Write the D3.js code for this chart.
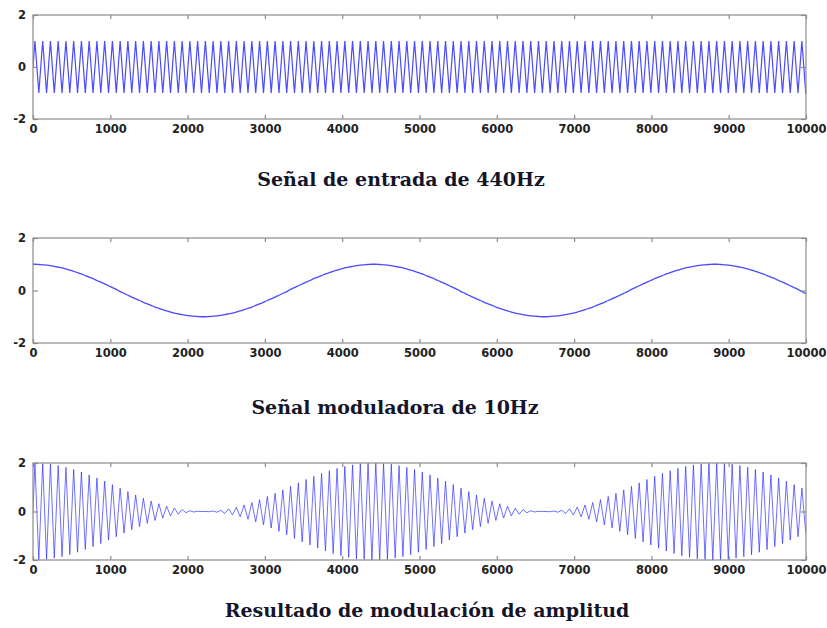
<!DOCTYPE html>
<html>
<head>
<meta charset="utf-8">
<script src="https://cdn.jsdelivr.net/npm/d3@7"></script>
<style>
  body { margin: 0; background: #fff; }
  .tick-label { font-family: "DejaVu Sans", sans-serif; font-weight: bold; font-size: 11.5px; fill: #222; }
  .panel-title { font-family: "DejaVu Serif", serif; font-weight: bold; font-size: 19px; fill: #15152a; }
</style>
</head>
<body>
<svg id="chart" width="827" height="628"></svg>
<script>

// sample axis
const xTicks = [0, 1000, 2000, 3000, 4000, 5000, 6000, 7000, 8000, 9000, 10000]
const yTicks = [-2, 0, 2]
const halfPeriod = 50.11   // 200 half cycles of the 440Hz wave across 10000 samples
const firstPeak = 25.06

// peaks of the 440Hz carrier, one per half cycle
const carrierPeaks = [
  1,-1,1,-1,1,-1,1,-1,1,-1,1,-1,1,-1,1,-1,1,-1,1,-1,
  1,-1,1,-1,1,-1,1,-1,1,-1,1,-1,1,-1,1,-1,1,-1,1,-1,
  1,-1,1,-1,1,-1,1,-1,1,-1,1,-1,1,-1,1,-1,1,-1,1,-1,
  1,-1,1,-1,1,-1,1,-1,1,-1,1,-1,1,-1,1,-1,1,-1,1,-1,
  1,-1,1,-1,1,-1,1,-1,1,-1,1,-1,1,-1,1,-1,1,-1,1,-1,
  1,-1,1,-1,1,-1,1,-1,1,-1,1,-1,1,-1,1,-1,1,-1,1,-1,
  1,-1,1,-1,1,-1,1,-1,1,-1,1,-1,1,-1,1,-1,1,-1,1,-1,
  1,-1,1,-1,1,-1,1,-1,1,-1,1,-1,1,-1,1,-1,1,-1,1,-1,
  1,-1,1,-1,1,-1,1,-1,1,-1,1,-1,1,-1,1,-1,1,-1,1,-1,
  1,-1,1,-1,1,-1,1,-1,1,-1,1,-1,1,-1,1,-1,1,-1,1,-1
]

// 10Hz modulating signal, read at the same sample positions
const modulator = [
  1.00,0.99,0.98,0.97,0.95,0.92,0.89,0.86,0.82,0.78,0.73,0.68,0.63,0.57,0.51,0.45,0.38,0.32,0.25,0.18,0.11,0.04,
  -0.04,-0.11,-0.18,-0.25,-0.32,-0.38,-0.45,-0.51,-0.57,-0.63,-0.68,-0.73,-0.78,-0.82,-0.86,-0.89,-0.92,-0.95,-0.97,-0.98,-0.99,-1.00,
  -1.00,-0.99,-0.98,-0.97,-0.95,-0.92,-0.89,-0.86,-0.82,-0.78,-0.73,-0.68,-0.63,-0.57,-0.51,-0.45,-0.38,-0.32,-0.25,-0.18,-0.11,-0.04,
  0.04,0.11,0.18,0.25,0.32,0.38,0.45,0.51,0.57,0.63,0.68,0.73,0.78,0.82,0.86,0.89,0.92,0.95,0.97,0.98,0.99,1.00,
  1.00,0.99,0.98,0.97,0.95,0.92,0.89,0.86,0.82,0.78,0.73,0.68,0.63,0.57,0.51,0.45,0.38,0.32,0.25,0.18,0.11,0.04,
  -0.04,-0.11,-0.18,-0.25,-0.32,-0.38,-0.45,-0.51,-0.57,-0.63,-0.68,-0.73,-0.78,-0.82,-0.86,-0.89,-0.92,-0.95,-0.97,-0.98,-0.99,-1.00,
  -1.00,-0.99,-0.98,-0.97,-0.95,-0.92,-0.89,-0.86,-0.82,-0.78,-0.73,-0.68,-0.63,-0.57,-0.51,-0.45,-0.38,-0.32,-0.25,-0.18,-0.11,-0.04,
  0.04,0.11,0.18,0.25,0.32,0.38,0.45,0.51,0.57,0.63,0.68,0.73,0.78,0.82,0.86,0.89,0.92,0.95,0.97,0.98,0.99,1.00,
  1.00,0.99,0.98,0.97,0.95,0.92,0.89,0.86,0.82,0.78,0.73,0.68,0.63,0.57,0.51,0.45,0.38,0.32,0.25,0.18,0.11,0.04,
  -0.04,-0.11
]

// values at sample 0 and sample 10000
const edgeSamples = [0, 10000]
const carrierEdges = [0, -0.99]
const modulatorEdges = [1, -0.11]

const titles = ["Señal de entrada de 440Hz", "Señal moduladora de 10Hz", "Resultado de modulación de amplitud"]

const svg = d3.select("#chart")

const x = d3.scaleLinear().domain([0, 10000]).range([33, 806])

function series(vals, edges) {
  const pts = vals.map((v, i) => ({ s: firstPeak + i * halfPeriod, v: v }))
  return [{ s: edgeSamples[0], v: edges[0] }].concat(pts, [{ s: edgeSamples[1], v: edges[1] }])
}

const amValues = carrierPeaks.map((c, i) => c * (1 + modulator[i]))

const panels = [
  { top: 15, bottom: 119, data: series(carrierPeaks, carrierEdges), curve: d3.curveLinear, width: 1.2, opacity: 0.85, titleX: 401, titleY: 186 },
  { top: 238, bottom: 343, data: series(modulator, modulatorEdges), curve: d3.curveMonotoneX, width: 1.3, opacity: 0.85, titleX: 395, titleY: 414 },
  { top: 463, bottom: 560, data: series(amValues, [0, carrierEdges[1] * (1 + modulatorEdges[1])]), curve: d3.curveLinear, width: 0.9, opacity: 0.75, titleX: 427, titleY: 617 }
]

panels.forEach((p, i) => {

  const y = d3.scaleLinear().domain([-2, 2]).range([p.bottom, p.top])
  const g = svg.append("g")

  g.append("clipPath")
    .attr("id", "clip" + i)
    .append("rect")
    .attr("x", x(0)).attr("y", p.top - 1)
    .attr("width", x(10000) - x(0)).attr("height", p.bottom - p.top + 2)

  const line = d3.line()
    .x(d => x(d.s))
    .y(d => y(d.v))
    .curve(p.curve)

  g.append("path")
    .datum(p.data)
    .attr("clip-path", "url(#clip" + i + ")")
    .attr("fill", "none")
    .attr("stroke", "#2a2aff")
    .attr("stroke-opacity", p.opacity)
    .attr("stroke-width", p.width)
    .attr("d", line)

  // frame
  g.append("rect")
    .attr("x", x(0)).attr("y", p.top)
    .attr("width", x(10000) - x(0)).attr("height", p.bottom - p.top)
    .attr("fill", "none")
    .attr("stroke", "#8c8c8c")
    .attr("stroke-width", 1.2)

  // inner ticks, bottom and top
  const bottomAxis = d3.axisBottom(x).tickValues(xTicks).tickSize(-4).tickFormat(d => d)
  const topAxis = d3.axisTop(x).tickValues(xTicks).tickSize(-4).tickFormat("")

  const gb = g.append("g").attr("transform", "translate(0," + p.bottom + ")").call(bottomAxis)
  const gt = g.append("g").attr("transform", "translate(0," + p.top + ")").call(topAxis)

  const leftAxis = d3.axisLeft(y).tickValues(yTicks).tickSize(-5).tickFormat(d => d)
  const rightAxis = d3.axisRight(y).tickValues(yTicks).tickSize(-5).tickFormat("")

  const gl = g.append("g").attr("transform", "translate(" + x(0) + ",0)").call(leftAxis)
  const gr = g.append("g").attr("transform", "translate(" + x(10000) + ",0)").call(rightAxis)

  ;[gb, gt, gl, gr].forEach(a => {
    a.select(".domain").remove()
    a.selectAll(".tick line").attr("stroke", "#8c8c8c").attr("stroke-width", 1.2)
  })

  gb.selectAll("text")
    .attr("class", "tick-label")
    .attr("dy", "0.71em")
    .attr("y", 6)

  gl.selectAll("text")
    .attr("class", "tick-label")
    .attr("x", -7)

  svg.append("text")
    .attr("class", "panel-title")
    .attr("x", p.titleX)
    .attr("y", p.titleY)
    .attr("text-anchor", "middle")
    .text(titles[i])
})

</script>
</body>
</html>
